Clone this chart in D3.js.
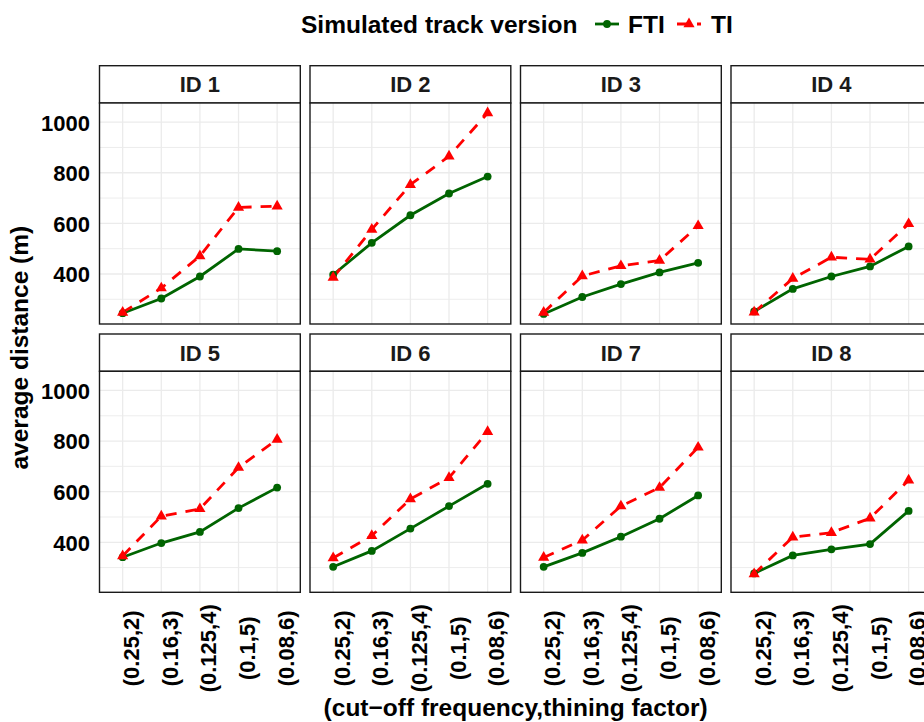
<!DOCTYPE html>
<html>
<head>
<meta charset="utf-8">
<script src="https://cdn.jsdelivr.net/npm/d3@7"></script>
<style>
  html, body { margin: 0; padding: 0; background: #ffffff; }
  svg { display: block; font-family: "Liberation Sans", Arial, Helvetica, sans-serif; }
</style>
</head>
<body>
<div id="chart"></div>
<script>
// Facet labels, x categories and the two simulated track versions
const ids = ["ID 1", "ID 2", "ID 3", "ID 4", "ID 5", "ID 6", "ID 7", "ID 8"];
const categories = ["(0.25,2)", "(0.16,3)", "(0.125,4)", "(0.1,5)", "(0.08,6)"];
const seriesNames = ["FTI", "TI"];

// average distance (m) per ID, one value per category
const ftiValues = [
  [245, 303, 390, 499, 490],
  [397, 523, 632, 718, 785],
  [242, 309, 360, 406, 444],
  [252, 341, 390, 430, 509],
  [341, 397, 441, 535, 616],
  [303, 366, 454, 543, 631],
  [303, 358, 422, 493, 585],
  [277, 348, 372, 393, 524]
];
const tiValues = [
  [248, 344, 471, 663, 668],
  [386, 576, 753, 865, 1036],
  [248, 392, 432, 453, 590],
  [249, 382, 466, 458, 598],
  [346, 503, 532, 695, 806],
  [338, 426, 571, 655, 837],
  [340, 408, 543, 616, 775],
  [275, 420, 438, 495, 645]
];

const yMajorTicks = [400, 600, 800, 1000];
const yMinorTicks = [300, 500, 700, 900];

const W = 924, H = 722;
const GREEN = "#006400", RED = "#ff0000";
const GRID = "#ebebeb";
const TEXT = "#000000";

const svg = d3.select("#chart").append("svg")
  .attr("width", W).attr("height", H)
  .attr("viewBox", `0 0 ${W} ${H}`);

// facet layout: 2 rows x 4 columns
const ncol = 4;
const panelLeft = 99.5, panelW = 200.8, colGap = 9.7;
const stripH = 37.3, panelH = 221;
const rowTops = [65.7, 334];

// shared scales
const allVals = ftiValues.flat().concat(tiValues.flat());
const [vMin, vMax] = d3.extent(allVals);
const pad = (vMax - vMin) * 0.05;

const x = d3.scalePoint().domain(categories).range([0, panelW]).padding(0.6);
const y = d3.scaleLinear().domain([vMin - pad, vMax + pad]).range([panelH, 0]);

const triangle = d3.symbol().type(d3.symbolTriangle).size(54);
const line = d3.line().x((d, i) => x(categories[i])).y(d => y(d));

ids.forEach((id, k) => {
  const col = k % ncol, row = Math.floor(k / ncol);
  const px = panelLeft + col * (panelW + colGap);
  const stripTop = rowTops[row];
  const py = stripTop + stripH;

  // strip
  const strip = svg.append("g").attr("transform", `translate(${px},${stripTop})`);
  strip.append("rect").attr("width", panelW).attr("height", stripH)
    .attr("fill", "#ffffff").attr("stroke", "#1a1a1a").attr("stroke-width", 1.4);
  strip.append("text")
    .attr("x", panelW / 2).attr("y", stripH / 2).attr("dy", "0.36em")
    .attr("text-anchor", "middle")
    .attr("font-size", 22).attr("font-weight", "bold").attr("fill", "#1a1a1a")
    .text(id);

  const g = svg.append("g").attr("transform", `translate(${px},${py})`);
  g.append("rect").attr("width", panelW).attr("height", panelH).attr("fill", "#ffffff");

  // grid
  g.selectAll("line.ymin").data(yMinorTicks.filter(v => v > y.domain()[0] && v < y.domain()[1]))
    .join("line").attr("class", "ymin")
    .attr("x1", 0).attr("x2", panelW).attr("y1", d => y(d)).attr("y2", d => y(d))
    .attr("stroke", GRID).attr("stroke-width", 0.9);
  g.selectAll("line.ymaj").data(yMajorTicks)
    .join("line").attr("class", "ymaj")
    .attr("x1", 0).attr("x2", panelW).attr("y1", d => y(d)).attr("y2", d => y(d))
    .attr("stroke", GRID).attr("stroke-width", 1.3);
  g.selectAll("line.xmaj").data(categories)
    .join("line").attr("class", "xmaj")
    .attr("x1", d => x(d)).attr("x2", d => x(d)).attr("y1", 0).attr("y2", panelH)
    .attr("stroke", GRID).attr("stroke-width", 1.3);

  // series
  g.append("path").attr("d", line(ftiValues[k]))
    .attr("fill", "none").attr("stroke", GREEN).attr("stroke-width", 2.8);
  g.append("path").attr("d", line(tiValues[k]))
    .attr("fill", "none").attr("stroke", RED).attr("stroke-width", 2.8)
    .attr("stroke-dasharray", "11,9");
  g.selectAll("circle").data(ftiValues[k]).join("circle")
    .attr("cx", (d, i) => x(categories[i])).attr("cy", d => y(d))
    .attr("r", 3.9).attr("fill", GREEN);
  g.selectAll("path.tri").data(tiValues[k]).join("path").attr("class", "tri")
    .attr("transform", (d, i) => `translate(${x(categories[i])},${y(d)})`)
    .attr("d", triangle).attr("fill", RED);

  g.append("rect").attr("width", panelW).attr("height", panelH)
    .attr("fill", "none").attr("stroke", "#1a1a1a").attr("stroke-width", 1.4);

  // y axis on the first column
  if (col === 0) {
    const ya = g.append("g").call(d3.axisLeft(y).tickValues(yMajorTicks)
      .tickFormat(d3.format("d")).tickSize(0).tickPadding(9.5));
    ya.select(".domain").remove();
    ya.selectAll("text").attr("font-size", 22).attr("font-weight", "bold")
      .attr("fill", TEXT).attr("font-family", null).attr("dy", "0.36em");
  }

  // x axis on the bottom row
  if (row === 1) {
    const xa = g.append("g").attr("transform", `translate(0,${panelH})`)
      .call(d3.axisBottom(x).tickSize(0));
    xa.select(".domain").remove();
    xa.selectAll("text")
      .attr("transform", "rotate(-90)")
      .attr("x", -56).attr("y", 0).attr("dy", "0.73em")
      .attr("text-anchor", "middle")
      .attr("font-size", 22).attr("font-weight", "bold")
      .attr("fill", TEXT).attr("font-family", null);
  }
});

// axis titles
const panelsRight = panelLeft + ncol * panelW + (ncol - 1) * colGap;
svg.append("text")
  .attr("x", (panelLeft + panelsRight) / 2).attr("y", 716)
  .attr("text-anchor", "middle")
  .attr("font-size", 24.5).attr("font-weight", "bold").attr("fill", TEXT)
  .text("(cut\u2212off frequency,thining factor)");

svg.append("text")
  .attr("transform", `translate(28,${(rowTops[0] + stripH + rowTops[1] + stripH + panelH) / 2}) rotate(-90)`)
  .attr("text-anchor", "middle")
  .attr("font-size", 24.5).attr("font-weight", "bold").attr("fill", TEXT)
  .text("average distance (m)");

// legend
const legend = svg.append("g").attr("transform", "translate(0,24)");
legend.append("text").attr("x", 301).attr("y", 0).attr("dy", "0.36em")
  .attr("font-size", 24.5).attr("font-weight", "bold").attr("fill", TEXT)
  .text("Simulated track version");

const keys = [
  { name: seriesNames[0], kx: 595, tx: 628, color: GREEN, dash: null, shape: "circle" },
  { name: seriesNames[1], kx: 677, tx: 711, color: RED, dash: "11,9", shape: "triangle" }
];
keys.forEach(kd => {
  legend.append("line").attr("x1", kd.kx).attr("x2", kd.kx + 24)
    .attr("stroke", kd.color).attr("stroke-width", 2.8)
    .attr("stroke-dasharray", kd.dash);
  if (kd.shape === "circle") {
    legend.append("circle").attr("cx", kd.kx + 12).attr("cy", 0).attr("r", 3.9).attr("fill", kd.color);
  } else {
    legend.append("path").attr("transform", `translate(${kd.kx + 12},0)`)
      .attr("d", triangle).attr("fill", kd.color);
  }
  legend.append("text").attr("x", kd.tx).attr("y", 0).attr("dy", "0.36em")
    .attr("font-size", 24.5).attr("font-weight", "bold").attr("fill", TEXT)
    .text(kd.name);
});
</script>
</body>
</html>
